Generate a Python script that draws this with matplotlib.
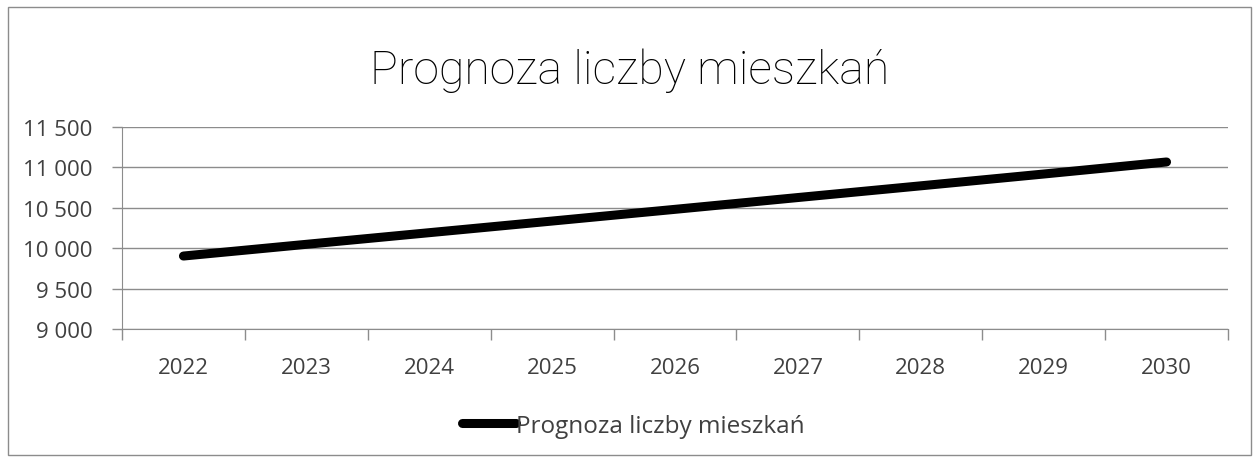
import matplotlib.pyplot as plt
from matplotlib.patches import Rectangle

# data
years = ['2022', '2023', '2024', '2025', '2026', '2027', '2028', '2029', '2030']
residents = [9903, 10048, 10192, 10336, 10481, 10627, 10772, 10918, 11067]
y_ticks = [9000, 9500, 10000, 10500, 11000, 11500]

plt.rcParams['font.family'] = ['Open Sans', 'DejaVu Sans']
grey = '#8c8c8c'
text_col = '#404040'

W, H = 1259, 464
fig = plt.figure(figsize=(W / 100, H / 100), dpi=100)
fig.patches.append(Rectangle((8 / W, 8 / H), 1 - 16 / W, 1 - 16 / H,
                             transform=fig.transFigure, fill=False,
                             edgecolor='#8c8c8c', linewidth=1))

# plot area in pixels: x 122..1228, y 128..330
ax = fig.add_axes([122 / W, (H - 330) / H, (1228 - 122) / W, (330 - 128) / H])
x = list(range(len(years)))
ax.plot(x, residents, color='black', linewidth=6.5, solid_capstyle='round',
        label='Prognoza liczby mieszkań')

ax.set_xlim(-0.5, len(years) - 0.5)
ax.set_ylim(9000, 11500)
ax.set_yticks(y_ticks)
ax.set_yticklabels([f'{v:,}'.replace(',', ' ') for v in y_ticks])
ax.set_xticks(x)
ax.set_xticklabels(years)
ax.set_xticks([i - 0.5 for i in range(len(years) + 1)], minor=True)
ax.tick_params(axis='x', which='major', length=0, pad=20, labelsize=16, labelcolor=text_col)
ax.tick_params(axis='x', which='minor', length=8, color=grey, width=1)
ax.tick_params(axis='y', length=7, color=grey, width=1, labelsize=16, labelcolor=text_col, pad=14)
ax.grid(axis='y', color=grey, linewidth=1)
ax.set_axisbelow(True)
for s in ['top', 'right']:
    ax.spines[s].set_visible(False)
ax.spines['left'].set_color(grey)
ax.spines['bottom'].set_color(grey)

fig.text(0.5, (H - 71) / H, 'Prognoza liczby mieszkań', ha='center', va='center',
         fontsize=33.5, color='black', fontweight='light', family=['Roboto', 'DejaVu Sans'])

fig.legend(loc='center', bbox_to_anchor=(0.503, (H - 427) / H), frameon=False,
           fontsize=17.5, handlelength=2.2, handletextpad=0.0, labelcolor=text_col)

fig.savefig('out.png', dpi=100)
